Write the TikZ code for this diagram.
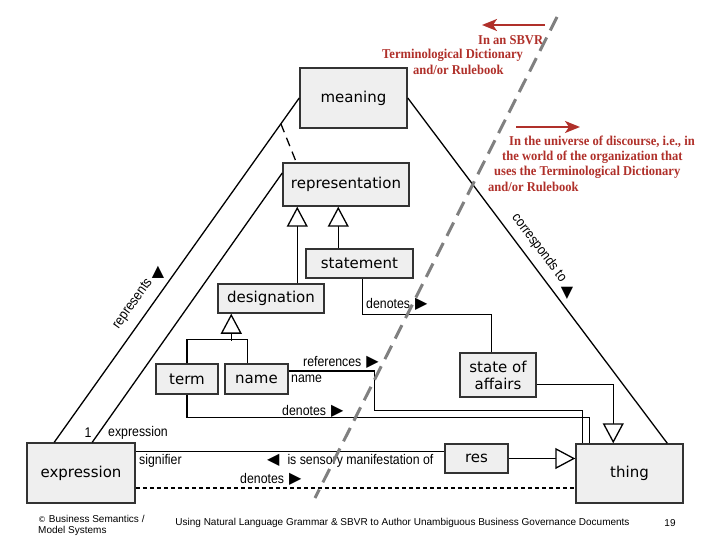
\documentclass[tikz,border=0pt]{standalone}
\usepackage{fontspec}
\setmainfont{DejaVu Sans}
\newfontfamily\lblf[FakeStretch=0.88]{Liberation Sans}
\newfontfamily\footf{Liberation Sans}
\newfontfamily\redf[FakeStretch=0.93]{Liberation Serif}
\newfontfamily\symf{DejaVu Sans}
\usetikzlibrary{arrows.meta,calc}
\definecolor{boxfill}{HTML}{EFEFEF}
\definecolor{boxdraw}{HTML}{333333}
\definecolor{sbvrred}{HTML}{B0302A}
\definecolor{divgray}{HTML}{808080}
\newcommand\tR{{\symf\fontsize{16}{16}\selectfont ▶}}
\newcommand\tL{{\symf\fontsize{16}{16}\selectfont ◀}}
\newcommand\tU{{\symf\fontsize{16}{16}\selectfont ▲}}
\newcommand\tD{{\symf\fontsize{16}{16}\selectfont ▼}}
\begin{document}
\begin{tikzpicture}[x=1pt,y=-1pt,
  box/.style={draw=boxdraw, fill=boxfill, line width=1.5pt, font=\fontsize{15}{17}\selectfont, inner sep=2pt, align=center},
  conn/.style={line width=1.3pt},
  gen/.style={conn, -{Triangle[length=20pt,width=21pt,fill=white]}},
  lab/.style={font=\lblf\fontsize{14}{15}\selectfont, inner sep=0pt},
  redtxt/.style={text=sbvrred, font=\redf\bfseries\fontsize{13.5}{15}\selectfont, inner sep=0pt, anchor=west},
  foot/.style={font=\footf\fontsize{10}{11}\selectfont, inner sep=0pt}]
\useasboundingbox (0,0) rectangle (720,540);
\fill[white] (0,0) rectangle (720,540);

% boxes
\node[box, minimum width=107pt, minimum height=60pt] (meaning) at (353.5,98) {meaning};
\node[box, minimum width=126pt, minimum height=43pt] (representation) at (346,184.5) {representation};
\node[box, minimum width=107pt, minimum height=29pt] (statement) at (359.5,263.5) {statement};
\node[box, minimum width=106pt, minimum height=29pt] (designation) at (271,298.5) {designation};
\node[box, minimum width=62pt, minimum height=30pt] (term) at (187,379) {term};
\node[box, minimum width=63pt, minimum height=30pt] (name) at (256.5,379) {name};
\node[box, minimum width=76pt, minimum height=44pt] (soa) at (498,375) {state of\\affairs};
\node[box, minimum width=63pt, minimum height=29pt] (res) at (476.5,458.5) {res};
\node[box, minimum width=107pt, minimum height=59pt] (thing) at (629.5,473.5) {thing};
\node[box, minimum width=108pt, minimum height=60pt] (expression) at (81,473) {expression};

% triangle sides
\coordinate (exTopA) at ($(expression.north west)+(28,0)$);
\coordinate (exTopB) at ($(expression.north west)+(66,0)$);
\draw[conn] (meaning.west) -- (exTopA);
\draw[conn] ($(representation.west)+(0,-11.5)$) -- (exTopB);
\draw[conn, dash pattern=on 9pt off 6pt] ($(meaning.west)!0.075!(exTopA)$) -- ($(representation.north west)+(14,0)$);
\draw[conn] (meaning.east) -- ($(thing.north west)+(92,0)$);

% generalizations
\draw[gen] ($(designation.north west)+(80,0)$) -- ($(representation.south west)+(15,0)$);
\draw[gen] ($(statement.north west)+(33,0)$) -- ($(representation.south west)+(56,0)$);
\draw[conn] (term.north) -- ++(0,-24) -| ($(name.north west)+(23,0)$);
\draw[gen] ($(designation.south west)+(14,27)$) -- ($(designation.south west)+(14,0)$);
\draw[gen] ($(soa.east)+(0,9.5)$) -| ($(thing.north west)+(38,0)$);
\draw[gen] (res.east) -- (res.east -| thing.west);

% associations
\draw[conn] ($(statement.south west)+(57,0)$) |- ($(soa.north west)+(32,-38)$) -- ($(soa.north west)+(32,0)$);
\draw[conn] ($(name.east)+(0,-8)$) -- ++(86,0) |- ($(thing.north west)+(7,-33)$) -- ($(thing.north west)+(7,0)$);
\draw[conn] (term.south) |- ($(thing.north west)+(14,-26)$) -- ($(thing.north west)+(14,0)$);
\draw[conn] ($(expression.north east)+(0,9)$) -- ($(res.north west)+(0,8)$);
\draw[line width=1.2pt, dash pattern=on 4pt off 3pt] ($(expression.east)+(0,15)$) -- ($(thing.west)+(0,14.5)$);

% labels
\node[lab, anchor=west] (lbSt) at (366,304) {denotes\hspace{5pt}\tR};
\node[lab, anchor=west] (lbRef) at (303,362) {references\hspace{5pt}\tR};
\node[lab, anchor=west] (lbName) at (291,379) {name};
\node[lab, anchor=west] (lbTerm) at (282,411) {denotes\hspace{5pt}\tR};
\node[lab] (lbOne) at (88,433) {1};
\node[lab, anchor=west] (lbExp) at (108,433) {expression};
\node[lab, anchor=west] (lbSig) at (139,461) {signifier};
\node[lab, anchor=west] (lbSens) at (267,461) {\tL\hspace{8pt}is sensory manifestation of};
\node[lab, anchor=west] (lbDen) at (240,479) {denotes\hspace{5pt}\tR};
\node[lab, rotate=54.6] (lbRep) at (133,304) {represents};
\node[lab] (lbRepT) at (158,272) {\tU};
\node[lab, rotate=-52.9] (lbCor) at (539,248) {corresponds to};
\node[lab] (lbCorT) at (567,293) {\tD};

% SBVR annotations
\coordinate (arA1) at (545,25); \coordinate (arA2) at (482,25);
\coordinate (arB1) at (516,127); \coordinate (arB2) at (580,127);
\draw[sbvrred, line width=2pt, -{Stealth[length=15pt,width=12pt,inset=4pt]}] (arA1) -- (arA2);
\draw[sbvrred, line width=2pt, -{Stealth[length=15pt,width=12pt,inset=4pt]}] (arB1) -- (arB2);
\node[redtxt] (rA1) at (478,40) {In an SBVR};
\node[redtxt] (rA2) at (382,55) {Terminological Dictionary};
\node[redtxt] (rA3) at (413,70) {and/or Rulebook};
\node[redtxt] (rB1) at (509,142) {In the universe of discourse, i.e., in};
\node[redtxt] (rB2) at (502,157) {the world of the organization that};
\node[redtxt] (rB3) at (494,172) {uses the Terminological Dictionary};
\node[redtxt] (rB4) at (488,187) {and/or Rulebook};

% divider
\draw[divgray, line width=3pt, dash pattern=on 15pt off 8pt] (557,17) -- (315,498);

% footer
\node[foot, anchor=west] (f1) at (38,519) {{\symf\fontsize{8}{9}\selectfont ©} Business Semantics /};
\node[foot, anchor=west] (f2) at (38,531) {Model Systems};
\node[foot] (f3) at (402.5,523) {Using Natural Language Grammar \& SBVR to Author Unambiguous Business Governance Documents};
\node[foot] (f4) at (670,523) {19};
\end{tikzpicture}
\end{document}
